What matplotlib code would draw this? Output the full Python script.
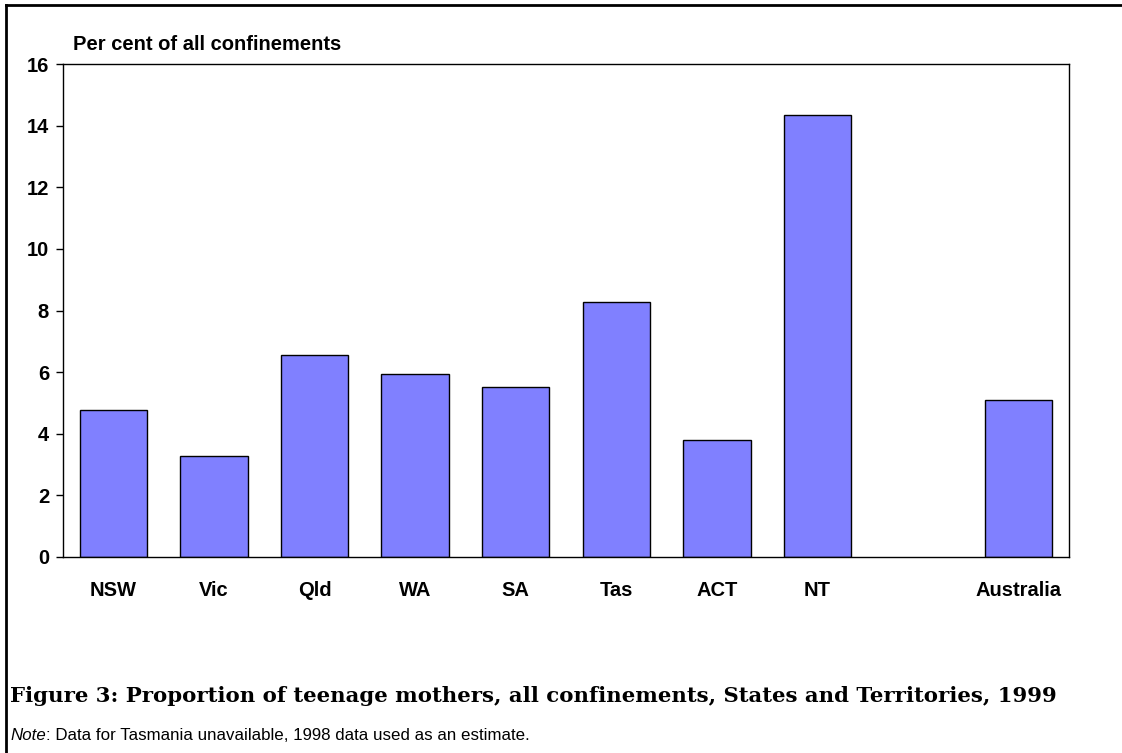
import matplotlib
matplotlib.use("Agg")
import matplotlib.pyplot as plt
from matplotlib.lines import Line2D

categories = ["NSW", "Vic", "Qld", "WA", "SA", "Tas", "ACT", "NT", "", "Australia"]
values = [4.76, 3.27, 6.57, 5.93, 5.53, 8.27, 3.81, 14.35, None, 5.11]
yticks = [0, 2, 4, 6, 8, 10, 12, 14, 16]

W, H = 1122, 753
fig = plt.figure(figsize=(W / 100, H / 100), dpi=100)
ax = fig.add_axes([63 / W, 1 - 557 / H, (1069 - 63) / W, (557 - 64) / H])

xs = [i for i, v in enumerate(values) if v is not None]
vs = [v for v in values if v is not None]
ax.bar(xs, vs, width=0.67, color="#8080FF", edgecolor="black", linewidth=1.0)

ax.set_xlim(-0.5, len(categories) - 0.5)
ax.set_ylim(0, 16)
ax.set_yticks(yticks)
ax.set_yticklabels([str(t) for t in yticks], fontfamily="Liberation Sans",
                   fontweight="bold", fontsize=14.5)
ax.set_xticks(range(len(categories)))
ax.set_xticklabels(categories, fontfamily="Liberation Sans", fontweight="bold", fontsize=14.5)
ax.tick_params(axis="x", length=0, pad=17)
ax.tick_params(axis="y", length=5, width=1, pad=5, direction="out")
for s in ax.spines.values():
    s.set_linewidth(1.0)
    s.set_color("black")

fig.text(73 / W, 1 - 44 / H, "Per cent of all confinements", fontfamily="Liberation Sans",
         fontweight="bold", fontsize=14.5, va="center", ha="left")

fig.text(10 / W, 1 - 696 / H,
         "Figure 3: Proportion of teenage mothers, all confinements, States and Territories, 1999",
         fontfamily="DejaVu Serif", fontweight="bold", fontsize=15.3, va="center", ha="left")

t1 = fig.text(10 / W, 1 - 735 / H, "Note", fontfamily="Liberation Sans", fontstyle="italic",
              fontsize=12.2, va="center", ha="left")
fig.canvas.draw()
bb = t1.get_window_extent()
fig.text(bb.x1 / W, 1 - 735 / H, ": Data for Tasmania unavailable, 1998 data used as an estimate.",
         fontfamily="Liberation Sans", fontsize=12.2, va="center", ha="left")

# figure border (top and left)
fig.add_artist(Line2D([6 / W, 1], [1 - 5 / H, 1 - 5 / H], transform=fig.transFigure,
                      color="black", linewidth=2))
fig.add_artist(Line2D([6 / W, 6 / W], [0, 1 - 5 / H], transform=fig.transFigure,
                      color="black", linewidth=2))

fig.savefig("out.png", dpi=100)
